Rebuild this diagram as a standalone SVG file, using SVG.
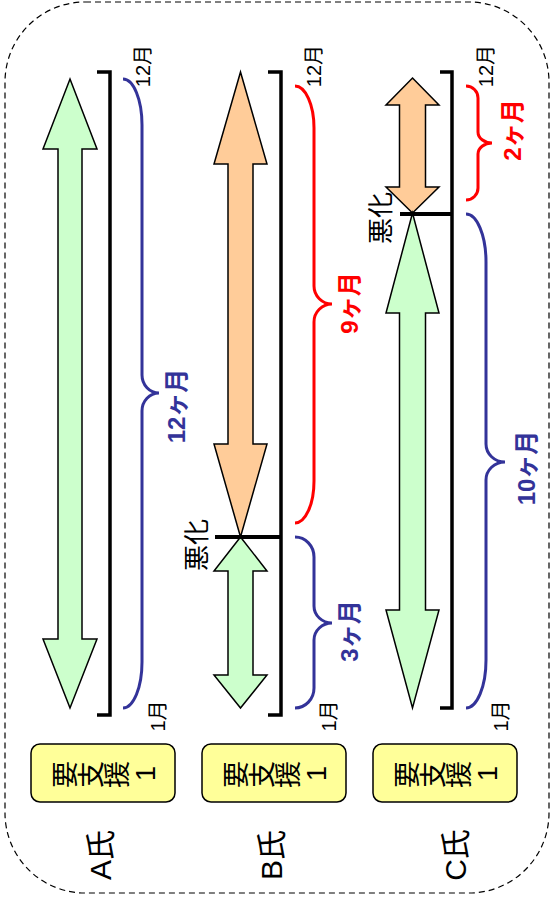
<svg xmlns="http://www.w3.org/2000/svg" width="553" height="900" viewBox="0 0 553 900">
<style>
text{font-family:"Liberation Sans","Noto Sans CJK JP",sans-serif;fill:#000}
.rot{text-anchor:middle}
.lbl{font-size:30px}
.mon{font-size:20px}
.bad{font-size:26px}
.dur{font-size:24px;font-weight:bold}
.blue{fill:#333399}
.red{fill:#FF0000}
.box{fill:#FFFF99;stroke:#000;stroke-width:1.5}
.boxt{font-size:27px}
.green{fill:#CCFFCC;stroke:#000;stroke-width:1.5;stroke-linejoin:miter}
.orange{fill:#FFCC99;stroke:#000;stroke-width:1.5;stroke-linejoin:miter}
.brk{fill:none;stroke:#000;stroke-width:3.5}
.mark{stroke:#000;stroke-width:4}
.bb{fill:none;stroke:#333399;stroke-width:3}
.rb{fill:none;stroke:#FF0000;stroke-width:3}
</style>
<rect id="frame" x="5" y="2" width="544" height="891" rx="80" ry="80" fill="none" stroke="#000" stroke-width="1.2" stroke-dasharray="6 4"/>

<g id="personA">
  <polygon class="green" points="70,79 97,149 82,149 82,639 97,639 70,708 43,639 58,639 58,149 43,149"/>
  <path class="brk" d="M97,72 H110 V715 H97"/>
  <text class="mon rot" transform="translate(143,66) rotate(-90)" dy="0.36em">12月</text>
  <text class="mon rot" transform="translate(158,716) rotate(-90)" dy="0.36em">1月</text>
  <rect class="box" x="31" y="744" width="144" height="58" rx="9"/>
  <text class="boxt" x="75 101 127 155" y="788 788 788 781" rotate="-90 -90 -90 -90">要支援1</text>
  <text class="lbl rot" transform="translate(100,855) rotate(-90)" dy="0.36em">A氏</text>
</g>

<g id="personB">
  <polygon class="orange" points="240.5,72 267,164 253,164 253,444 267,444 240.5,537 214,444 228,444 228,164 214,164"/>
  <polygon class="green" points="240.5,537 267,571 253,571 253,675 267,675 240.5,708 214,675 228,675 228,571 214,571"/>
  <path class="brk" d="M268,72 H281 V715 H268"/>
  <line class="mark" x1="215" y1="537" x2="281" y2="537"/>
  <text class="bad rot" transform="translate(197,545) rotate(-90)" dy="0.36em">悪化</text>
  <text class="mon rot" transform="translate(314,66) rotate(-90)" dy="0.36em">12月</text>
  <text class="mon rot" transform="translate(329,716) rotate(-90)" dy="0.36em">1月</text>
  <rect class="box" x="202" y="744" width="144" height="58" rx="9"/>
  <text class="boxt" x="246 272 298 326" y="788 788 788 781" rotate="-90 -90 -90 -90">要支援1</text>
  <text class="lbl rot" transform="translate(271,855) rotate(-90)" dy="0.36em">B氏</text>
</g>

<g id="personC">
  <polygon class="orange" points="412.5,78 439,105 425.5,105 425.5,187 439,187 412.5,213 386,187 399.5,187 399.5,105 386,105"/>
  <polygon class="green" points="412.5,213 439,313 425.5,313 425.5,610 439,610 412.5,708 386,610 399.5,610 399.5,313 386,313"/>
  <path class="brk" d="M440,72 H452 V708 H440"/>
  <line class="mark" x1="400" y1="214" x2="452" y2="214"/>
  <text class="bad rot" transform="translate(381,218) rotate(-90)" dy="0.36em">悪化</text>
  <text class="mon rot" transform="translate(486,66) rotate(-90)" dy="0.36em">12月</text>
  <text class="mon rot" transform="translate(501,716) rotate(-90)" dy="0.36em">1月</text>
  <rect class="box" x="373" y="744" width="144" height="58" rx="9"/>
  <text class="boxt" x="417 443 469 497" y="788 788 788 781" rotate="-90 -90 -90 -90">要支援1</text>
  <text class="lbl rot" transform="translate(455,855) rotate(-90)" dy="0.36em">C氏</text>
</g>

<g id="braces">
  <path class="bb" d="M123,79 A19,46 0 0 1 142,125 L142,375 A17,18 0 0 0 159,393 A17,18 0 0 0 142,411 L142,662 A19,46 0 0 1 123,708"/>
  <text class="dur rot blue" transform="translate(176,406) rotate(-90)" dy="0.36em">12ヶ月</text>
  <path class="rb" d="M295,86 A19,42 0 0 1 314,128 L314,286 A18,18 0 0 0 332,304 A18,18 0 0 0 314,322 L314,481 A19,42 0 0 1 295,523"/>
  <text class="dur rot red" transform="translate(349,303) rotate(-90)" dy="0.36em">9ヶ月</text>
  <path class="bb" d="M295,537 A19,20 0 0 1 314,557 L314,606 A18,17 0 0 0 332,623 A18,17 0 0 0 314,640 L314,688 A19,20 0 0 1 295,708"/>
  <text class="dur rot blue" transform="translate(349,631) rotate(-90)" dy="0.36em">3ヶ月</text>
  <path class="rb" d="M466,86 A12,12 0 0 1 478,98 L478,132 A14,11 0 0 0 492,143 A14,11 0 0 0 478,154 L478,188 A12,12 0 0 1 466,200"/>
  <text class="dur rot red" transform="translate(512,130) rotate(-90)" dy="0.36em">2ヶ月</text>
  <path class="bb" d="M466,214 A20,48 0 0 1 486,262 L486,444 A19,18 0 0 0 505,462 A19,18 0 0 0 486,480 L486,660 A20,48 0 0 1 466,708"/>
  <text class="dur rot blue" transform="translate(526,468) rotate(-90)" dy="0.36em">10ヶ月</text>
</g>
</svg>
